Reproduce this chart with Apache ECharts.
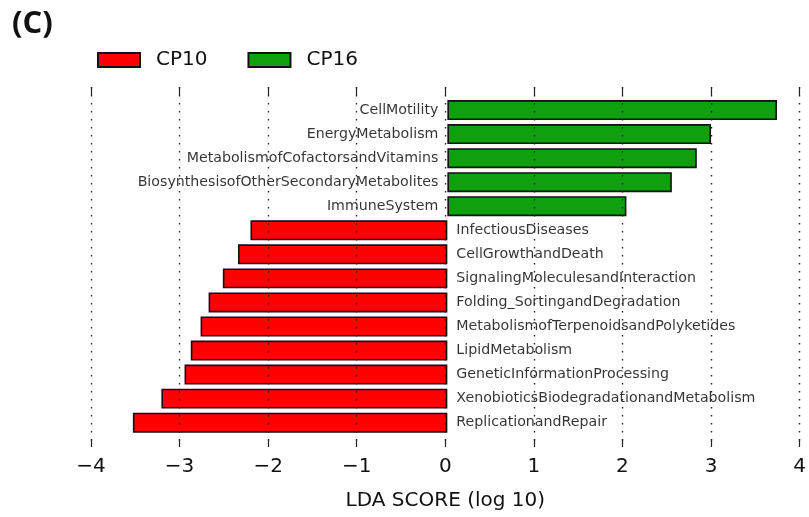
<!DOCTYPE html>
<html><head><meta charset="utf-8">
<script src="https://cdn.jsdelivr.net/npm/echarts@6/dist/echarts.min.js"></script>
<style>html,body{margin:0;padding:0;background:#fff}#c{width:809px;height:517px}</style>
</head><body><div id="c"></div>
<script>
var categories = ['CellMotility','EnergyMetabolism','MetabolismofCofactorsandVitamins','BiosynthesisofOtherSecondaryMetabolites','ImmuneSystem','InfectiousDiseases','CellGrowthandDeath','SignalingMoleculesandInteraction','Folding_SortingandDegradation','MetabolismofTerpenoidsandPolyketides','LipidMetabolism','GeneticInformationProcessing','XenobioticsBiodegradationandMetabolism','ReplicationandRepair'];
var cp16 = [3.70, 2.96, 2.80, 2.52, 2.01, null, null, null, null, null, null, null, null, null];
var cp10 = [null, null, null, null, null, -2.21, -2.35, -2.52, -2.68, -2.77, -2.88, -2.95, -3.21, -3.53];
var xTicks = [-4, -3, -2, -1, 0, 1, 2, 3, 4];

var FONT = 'DejaVu Sans';
var labelData = categories.map(function (c, i) {
  var pos = cp16[i] != null ? 'left' : 'right';
  return { value: [0, c], label: { position: pos } };
});

var chart = echarts.init(document.getElementById('c'), null, { renderer: 'canvas' });
chart.setOption({
  animation: false,
  backgroundColor: '#ffffff',
  graphic: [{
    type: 'text', left: 12, top: 9, z: 100,
    style: { text: '(C)', font: 'bold 31px "Open Sans"', fill: '#111' }
  }],
  legend: {
    left: 92, top: 45, itemWidth: 42, itemHeight: 14, itemGap: 40, icon: 'rect',
    data: ['CP10', 'CP16'],
    textStyle: { fontFamily: FONT, fontSize: 20, color: '#111', padding: [0, 0, 0, 11] }
  },
  grid: [
    { left: 91, right: 5.3, top: 87, bottom: 70 },
    { left: 91, right: 5.3, top: 98, bottom: 82.3 }
  ],
  xAxis: [
    {
      gridIndex: 0, type: 'value', min: xTicks[0], max: xTicks[xTicks.length - 1], interval: 1, z: 10,
      axisLine: { show: false },
      axisTick: { show: true, inside: true, length: 8, lineStyle: { color: '#222', width: 1.2 } },
      splitLine: { show: true, lineStyle: { color: '#222', width: 1.4, type: [1.6, 6.4] } },
      axisLabel: {
        margin: 10, fontFamily: FONT, fontSize: 20, color: '#111',
        formatter: function (v) { return v < 0 ? '\u2212' + (-v) : String(v); }
      },
      name: 'LDA SCORE (log 10)', nameLocation: 'middle', nameGap: 44,
      nameTextStyle: { fontFamily: FONT, fontSize: 20, color: '#111' }
    },
    {
      gridIndex: 0, type: 'value', position: 'top', min: -4, max: 4, interval: 1, z: 10,
      axisLine: { show: false },
      axisTick: { show: true, inside: true, length: 8, lineStyle: { color: '#222', width: 1.2 } },
      splitLine: { show: false }, axisLabel: { show: false }
    },
    {
      gridIndex: 1, type: 'value', min: -4, max: 4, interval: 1, show: false,
      splitLine: { show: false }
    }
  ],
  yAxis: [
    { gridIndex: 0, type: 'value', show: false, splitLine: { show: false } },
    {
      gridIndex: 1, type: 'category', data: categories, inverse: true, show: false
    }
  ],
  series: [
    {
      name: 'CP10', type: 'bar', xAxisIndex: 2, yAxisIndex: 1, data: cp10,
      barWidth: 20, barGap: '-100%', z: 2,
      itemStyle: { color: '#ff0000', borderColor: '#111', borderWidth: 1.6 }
    },
    {
      name: 'CP16', type: 'bar', xAxisIndex: 2, yAxisIndex: 1, data: cp16,
      barWidth: 20, barGap: '-100%', z: 2,
      itemStyle: { color: '#0f9f0f', borderColor: '#111', borderWidth: 1.6 }
    },
    {
      type: 'scatter', xAxisIndex: 2, yAxisIndex: 1, symbolSize: 0, z: 5,
      data: labelData, silent: true,
      label: {
        show: true, distance: 9, fontFamily: FONT, fontSize: 14.2, color: '#000',
        formatter: function (p) { return p.value[1]; }
      }
    }
  ]
});
</script></body></html>
